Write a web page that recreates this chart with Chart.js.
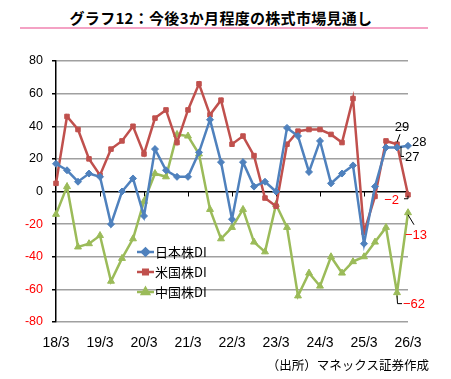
<!DOCTYPE html>
<html lang="ja">
<head>
<meta charset="utf-8">
<script src="https://cdn.jsdelivr.net/npm/chart.js@4"></script>
<style>
  html, body { margin: 0; padding: 0; background: #fff; }
  #wrap { position: relative; width: 451px; height: 379px; overflow: hidden; }
  #titulo {
    position: absolute; left: 0; top: 7px; width: 442px; text-align: center;
    font: bold 15px "Noto Sans CJK JP", sans-serif; color: #000; letter-spacing: 0.3px;
  }
  #raya { position: absolute; left: 20px; top: 27px; width: 408px; height: 2px; background: #f4a2c4; }
  #fuente {
    position: absolute; right: 22px; top: 355px;
    font: 12.5px "Noto Sans CJK JP", sans-serif; color: #000;
  }
  canvas { position: absolute; left: 0; top: 0; }
</style>
</head>
<body>
<div id="wrap">
  <div id="titulo">グラフ12：今後3か月程度の株式市場見通し</div>
  <div id="raya"></div>
  <canvas id="grafica" width="451" height="379"></canvas>
  <div id="fuente">（出所）マネックス証券作成</div>
</div>
<script>
// trimestral, de 18/3 a 26/3
const CATEGORIAS = [
  '18/3', '18/6', '18/9', '18/12', '19/3', '19/6', '19/9', '19/12',
  '20/3', '20/6', '20/9', '20/12', '21/3', '21/6', '21/9', '21/12',
  '22/3', '22/6', '22/9', '22/12', '23/3', '23/6', '23/9', '23/12',
  '24/3', '24/6', '24/9', '24/12', '25/3', '25/6', '25/9', '25/12', '26/3',
];
const JAPON = [17, 13, 6, 11, 9, -20, 0, 8, -15, 26, 13, 9, 9, 24, 44, 18, -17, 18, 3, 6, 0, 39, 34, 12, 31, 5, 11, 16, -32, 3, 27, 27, 28];
const EEUU = [5, 46, 38, 20, 10, 26, 31, 40, 23, 45, 50, 30, 50, 66, 47, 56, 29, 34, 22, -4, -9, 29, 37, 38, 38, 35, 30, 57, -25, -3, 31, 29, -2];
const CHINA = [-14, 3, -34, -32, -27, -55, -41, -29, -6, 11, 9, 35, 34, 23, -11, -29, -22, -11, -31, -37, -8, -22, -64, -50, -58, -40, -50, -43, -40, -31, -22, -62, -13];
const Y_TICKS = [80, 60, 40, 20, 0, -20, -40, -60, -80];

const AZUL = '#4F81BD';
const ROJO = '#C0504D';
const VERDE = '#9BBB59';
const ROJO_TEXTO = '#ff0000';
const FUENTE_NUM = '"Liberation Sans", Arial, sans-serif';
const FUENTE_JP = '"Noto Sans CJK JP", sans-serif';

// etiquetas de los últimos puntos: [dataset, índice, dx, dy, alineación, color, guía]
const ETIQUETAS = [
  [1, 31, 5, -17, 'center', '#000', [[3, -10], [0, -2]]],
  [0, 31, 8, 10, 'left', '#000', [[4, -1], [4, 9], [7, 9]]],
  [0, 32, 4, -3, 'left', '#000', null],
  [1, 32, -9, 6, 'right', ROJO_TEXTO, [[-4, 4], [0, 4], [0, 1]]],
  [2, 32, -3, 23, 'left', ROJO_TEXTO, [[0, 2], [6, 12]]],
  [2, 31, 6, 12, 'left', ROJO_TEXTO, [[0, 3], [0.5, 11], [5, 11]]],
];

function serie(label, data, color, estilo, radio) {
  return {
    label, data,
    borderColor: color, backgroundColor: color,
    borderWidth: 2.5, pointStyle: estilo, pointRadius: radio,
    pointBorderWidth: 1, pointBorderColor: color, tension: 0,
  };
}

const marcasCero = {
  id: 'marcasCero',
  beforeDatasetsDraw(chart) {
    const { ctx, scales: { x, y } } = chart;
    const y0 = y.getPixelForValue(0);
    ctx.save();
    ctx.strokeStyle = '#000';
    ctx.lineWidth = 1;
    CATEGORIAS.forEach((c, i) => {
      if (i === 0 || !c.endsWith('/3')) return;
      const px = Math.round(x.getPixelForValue(i)) + 0.5;
      ctx.beginPath();
      ctx.moveTo(px, y0);
      ctx.lineTo(px, y0 + 5);
      ctx.stroke();
    });
    ctx.restore();
  },
};

const leyenda = {
  id: 'leyenda',
  afterDatasetsDraw(chart) {
    const { ctx } = chart;
    const x0 = 137;
    const filas = [252, 272, 292];
    ctx.save();
    chart.data.datasets.forEach((ds, k) => {
      const yy = filas[k];
      ctx.strokeStyle = ds.borderColor;
      ctx.lineWidth = 2.5;
      ctx.beginPath();
      ctx.moveTo(x0, yy);
      ctx.lineTo(x0 + 17, yy);
      ctx.stroke();
      ctx.fillStyle = ds.borderColor;
      Chart.helpers.drawPoint(ctx, {
        pointStyle: ds.pointStyle, radius: ds.pointRadius, borderWidth: 1,
      }, x0 + 8.5, yy);
      ctx.fillStyle = '#000';
      ctx.font = '13px ' + FUENTE_JP;
      ctx.textAlign = 'left';
      ctx.textBaseline = 'middle';
      ctx.fillText(ds.label, x0 + 18, yy);
    });
    ctx.restore();
  },
};

const etiquetas = {
  id: 'etiquetas',
  afterDatasetsDraw(chart) {
    const { ctx } = chart;
    ctx.save();
    ETIQUETAS.forEach(([d, i, dx, dy, alin, color, guia]) => {
      const p = chart.getDatasetMeta(d).data[i];
      const valor = chart.data.datasets[d].data[i];
      if (guia) {
        ctx.strokeStyle = '#000';
        ctx.lineWidth = 1;
        ctx.beginPath();
        guia.forEach(([gx, gy], k) => {
          if (k === 0) ctx.moveTo(p.x + gx, p.y + gy);
          else ctx.lineTo(p.x + gx, p.y + gy);
        });
        ctx.stroke();
      }
      ctx.fillStyle = color;
      ctx.font = '13px ' + FUENTE_NUM;
      ctx.textAlign = alin;
      ctx.textBaseline = 'middle';
      ctx.fillText(String(valor).replace('-', '\u2212'), p.x + dx, p.y + dy);
    });
    ctx.restore();
  },
};

new Chart(document.getElementById('grafica'), {
  type: 'line',
  data: {
    labels: CATEGORIAS,
    datasets: [
      serie('日本株DI', JAPON, AZUL, 'rectRot', 3.5),
      serie('米国株DI', EEUU, ROJO, 'rect', 3.2),
      serie('中国株DI', CHINA, VERDE, 'triangle', 4),
    ],
  },
  options: {
    responsive: false,
    animation: false,
    layout: { padding: { left: 16, right: 43, top: 61, bottom: 27 } },
    plugins: { legend: { display: false }, tooltip: { enabled: false }, title: { display: false } },
    scales: {
      x: {
        offset: false,
        grid: { display: false },
        border: { display: false },
        afterFit: (s) => { s.height = 30; },
        ticks: {
          autoSkip: false, maxRotation: 0, padding: 5,
          color: '#000', font: { family: FUENTE_NUM, size: 14 },
          callback: (v, i) => (CATEGORIAS[i].endsWith('/3') ? CATEGORIAS[i] : ''),
        },
      },
      y: {
        min: -80, max: 80,
        afterFit: (s) => { s.width = 40; },
        afterBuildTicks: (s) => { s.ticks = Y_TICKS.map((v) => ({ value: v })); },
        border: { display: true, color: '#000', width: 1.5 },
        grid: {
          color: (c) => (c.tick && c.tick.value === 0 ? '#000' : '#a0a0a0'),
          lineWidth: 1.5, tickLength: 4, tickColor: '#000',
        },
        ticks: {
          padding: 9,
          color: (c) => (c.tick && c.tick.value < 0 ? ROJO_TEXTO : '#000'),
          font: { family: FUENTE_NUM, size: 12.5 },
        },
      },
    },
  },
  plugins: [marcasCero, leyenda, etiquetas],
});
</script>
</body>
</html>
